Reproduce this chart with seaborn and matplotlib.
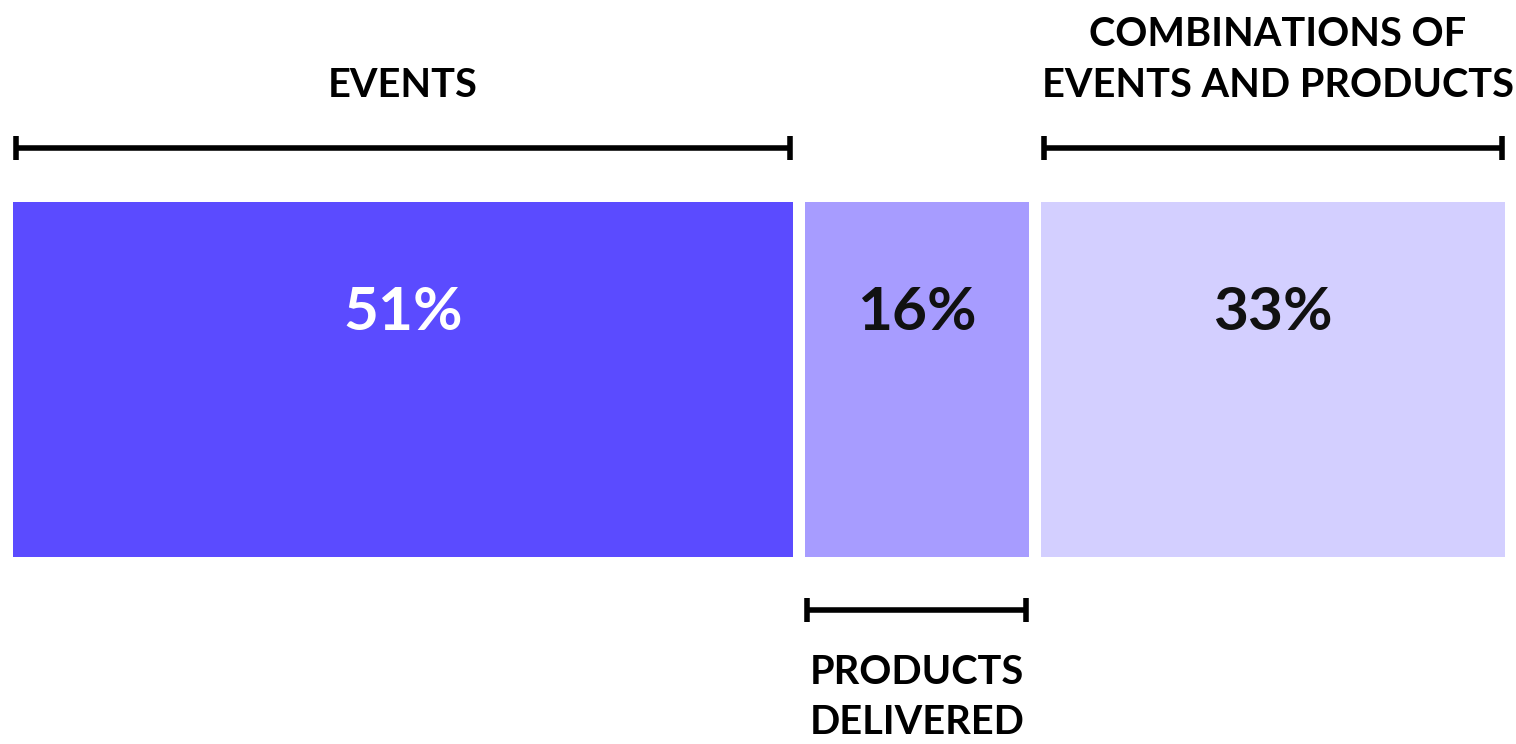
import matplotlib
matplotlib.use("Agg")
import matplotlib.pyplot as plt
import seaborn as sns

# Data
segments = ["Events", "Products delivered", "Combinations of events and products"]
widths = [53.1, 15.3, 31.6]          # drawn length of each segment (share of bar)
labels = ["51%", "16%", "33%"]
colors = ["#5B4BFF", "#A79CFF", "#D3CFFF"]
label_colors = ["white", "#111111", "#111111"]
captions = ["EVENTS", "PRODUCTS\nDELIVERED", "COMBINATIONS OF\nEVENTS AND PRODUCTS"]
caption_side = ["top", "bottom", "top"]
caption_shift = [0, 0, 0.3]

sns.set_theme(style="white")
plt.rcParams["font.family"] = ["Lato", "DejaVu Sans"]

GAP = 0.82          # white gap between segments
PX = 14.68          # pixels per unit
fig = plt.figure(figsize=(15.16, 7.44), dpi=100)
ax = fig.add_axes([0, 0, 1, 1])
ax.set_xlim(-13 / PX, (1516 - 13) / PX)
ax.set_ylim(744, 0)
ax.axis("off")

bar_y, bar_h = 379.5, 355
top_bracket_y, bottom_bracket_y = 148, 610
cap = 12
inset = 0.2
lw = 4.0

left = 0
for name, w, lab, col, lcol, capt, side, shift in zip(segments, widths, labels, colors,
                                                       label_colors, captions,
                                                       caption_side, caption_shift):
    ax.barh(bar_y, w, left=left, height=bar_h, color=col, edgecolor="none")
    cx = left + w / 2
    ax.text(cx, 313, lab, ha="center", va="center", fontsize=43.5,
            fontweight="bold", color=lcol)

    by = top_bracket_y if side == "top" else bottom_bracket_y
    x0, x1 = left + inset, left + w - inset
    ax.plot([x0, x1], [by, by], color="black", lw=lw, solid_capstyle="butt")
    ax.plot([x0, x0], [by - cap, by + cap], color="black", lw=lw, solid_capstyle="butt")
    ax.plot([x1, x1], [by - cap, by + cap], color="black", lw=lw, solid_capstyle="butt")

    if side == "top":
        ax.text(cx + shift, 97, capt, ha="center", va="baseline", fontsize=28.6,
                fontweight="bold", color="black", linespacing=1.45)
    else:
        ax.text(cx + shift, 654, capt, ha="center", va="top", fontsize=28.6,
                fontweight="bold", color="black", linespacing=1.45)
    left += w + GAP

fig.savefig("out.png", dpi=100)
